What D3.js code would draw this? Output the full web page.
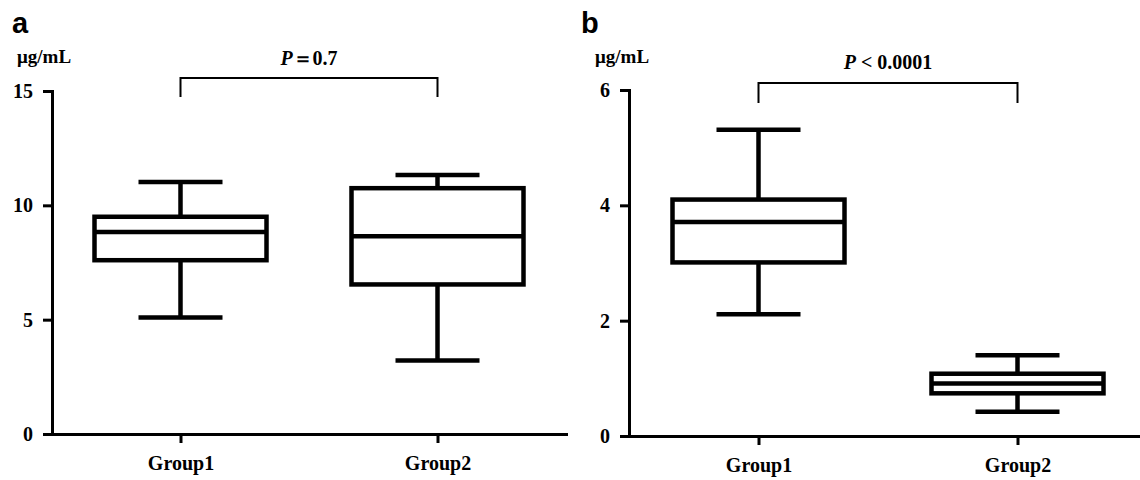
<!DOCTYPE html>
<meta charset="utf-8">
<style>
    body { margin: 0; background: #fff; }
    .serif { font-family: "Liberation Serif", "Times New Roman", serif; font-weight: bold; fill: #000; }
    .axis path, .axis line { stroke: #000; stroke-width: 3px; }
    .axis text { font-family: "Liberation Serif", "Times New Roman", serif; font-weight: bold; font-size: 20px; fill: #000; }
    .box { fill: none; stroke: #000; stroke-width: 4.5px; }
</style>
<svg width="1140" height="480"></svg>
<script src="https://d3js.org/d3.v7.min.js"></script>
<script>

// data: [lower whisker, Q1, median, Q3, upper whisker]
var groups = ["Group1", "Group2"];
var statsA = [[5.1, 7.6, 8.83, 9.5, 11.02], [3.21, 6.54, 8.65, 10.75, 11.33]];
var statsB = [[2.11, 3.01, 3.71, 4.1, 5.31], [0.42, 0.74, 0.91, 1.08, 1.4]];
var ticksA = [0, 5, 10, 15];
var ticksB = [0, 2, 4, 6];
var pA = "0.7";
var pB = "0.0001";

var svg = d3.select("svg");

var panels = [
    {letter: "a", stats: statsA, ticks: ticksA, max: 15, x0: 52, x1: 566, y0: 434, y1: 91,
     brTop: 78, brBot: 97, pY: 65, lx: 12, unitX: 17, sign: "\uFF1D", pval: pA},
    {letter: "b", stats: statsB, ticks: ticksB, max: 6, x0: 629, x1: 1147, y0: 436, y1: 90,
     brTop: 83, brBot: 103, pY: 69, lx: 581, unitX: 595, sign: " < ", pval: pB}
];

panels.forEach(function(p) {
    var x = d3.scalePoint().domain(groups).range([p.x0, p.x1]).padding(0.5);
    var y = d3.scaleLinear().domain([0, p.max]).range([p.y0, p.y1]);

    var g = svg.append("g");

    // panel letter
    g.append("text")
        .attr("x", p.lx).attr("y", 33)
        .style("font-family", "'Liberation Sans', Arial, sans-serif")
        .style("font-weight", "bold")
        .style("font-size", "29px")
        .text(p.letter);

    // unit
    g.append("text")
        .attr("class", "serif")
        .attr("x", p.unitX).attr("y", 63)
        .style("font-size", "19px")
        .text("\u03BCg/mL");

    // axes
    g.append("g")
        .attr("class", "axis")
        .attr("font-family", "Liberation Serif")
        .attr("transform", "translate(" + p.x0 + ",0)")
        .call(d3.axisLeft(y).tickValues(p.ticks).tickFormat(d3.format("d"))
            .tickSize(9).tickPadding(10).tickSizeOuter(0));

    g.append("g")
        .attr("class", "axis")
        .attr("font-family", "Liberation Serif")
        .attr("transform", "translate(0," + p.y0 + ")")
        .call(d3.axisBottom(x).tickSize(9).tickPadding(13).tickSizeOuter(0));

    g.selectAll(".axis .domain").attr("stroke-linecap", "square");

    // box plots
    var bw = 86, cw = 42;
    p.stats.forEach(function(s, i) {
        var cx = x(groups[i]);
        var bx = g.append("g").attr("class", "box");
        bx.append("line").attr("x1", cx).attr("x2", cx).attr("y1", y(s[0])).attr("y2", y(s[1]));
        bx.append("line").attr("x1", cx).attr("x2", cx).attr("y1", y(s[3])).attr("y2", y(s[4]));
        bx.append("line").attr("x1", cx - cw).attr("x2", cx + cw).attr("y1", y(s[0])).attr("y2", y(s[0]));
        bx.append("line").attr("x1", cx - cw).attr("x2", cx + cw).attr("y1", y(s[4])).attr("y2", y(s[4]));
        bx.append("rect")
            .attr("x", cx - bw).attr("width", 2 * bw)
            .attr("y", y(s[3])).attr("height", y(s[1]) - y(s[3]))
            .attr("fill", "#fff");
        bx.append("line").attr("x1", cx - bw).attr("x2", cx + bw).attr("y1", y(s[2])).attr("y2", y(s[2]));
    });

    // significance bracket
    var xa = x(groups[0]), xb = x(groups[1]);
    g.append("path")
        .attr("d", "M" + xa + "," + p.brBot + "V" + p.brTop + "H" + xb + "V" + p.brBot)
        .attr("fill", "none").attr("stroke", "#000").attr("stroke-width", 2);

    var t = g.append("text")
        .attr("class", "serif")
        .attr("x", (xa + xb) / 2).attr("y", p.pY)
        .attr("text-anchor", "middle")
        .style("font-size", "20px");
    t.append("tspan").style("font-style", "italic").text("P");
    t.append("tspan").attr("xml:space", "preserve").text(p.sign);
    t.append("tspan").text(p.pval);
});

</script>
